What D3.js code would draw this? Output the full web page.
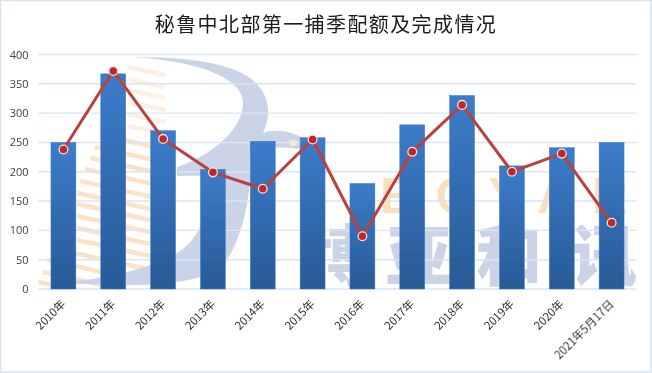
<!DOCTYPE html>
<html><head><meta charset="utf-8">
<script src="https://cdn.jsdelivr.net/npm/d3@7"></script>
<style>html,body{margin:0;padding:0;background:#fff}svg{display:block}</style>
</head><body><svg id="c" width="652" height="373"></svg>
<script>
const categories=["2010年","2011年","2012年","2013年","2014年","2015年","2016年","2017年","2018年","2019年","2020年","2021年5月17日"];
const quota=[250,367,270,204,252,258,180,280,330,210,241,250];
const completed=[238,372,256,199,171,255,90,234,314,200,231,113];
const yTicks=[0,50,100,150,200,250,300,350,400];
const titleText="秘鲁中北部第一捕季配额及完成情况";
const wmLatin=["B","O","Y","A","R"];
const wmCjk=["博","亚","和","讯"];
const font='"Noto Sans CJK SC","Open Sans",sans-serif';
const svg=d3.select("#c");
svg.append("rect").attr("x",.5).attr("y",.5).attr("width",650.5).attr("height",371.5).attr("fill","#fff").attr("stroke","#d5e3f5").attr("stroke-width",1.5);
const x=d3.scaleBand().domain(categories).range([38.5,636.5]).paddingInner(.5).paddingOuter(.25);
const y=d3.scaleLinear().domain([0,400]).range([289,54.5]);
const defs=svg.append("defs");
const g=defs.append("linearGradient").attr("id","bar").attr("x1",0).attr("x2",0).attr("y1",0).attr("y2",1);
g.append("stop").attr("offset",0).attr("stop-color","#3c7cca");
g.append("stop").attr("offset",1).attr("stop-color","#285a96");
const f=defs.append("filter").attr("id","soft").attr("x","-2%").attr("y","-2%").attr("width","104%").attr("height","104%");
f.append("feGaussianBlur").attr("stdDeviation",.35);
const root=svg.append("g").attr("filter","url(#soft)");
// watermark
const wm=root.append("g");
const stripes=wm.append("g").attr("stroke-width",4.5).attr("fill","none");
[[128,67,165],[128,79,165],[128,90,165],[128,102,165],[128,114,165],[128,126,165],[100,135,165],[95,147,165],[90,158,165],[85,169,165],[80,181,165],[77,193,165],[77,204,160],[77,216,155],[77,228,150],[77,240,150],[60,250,150],[47,260,150],[43,272,120],[38,282,60]]
 .forEach((s,i)=>stripes.append("line").attr("stroke",i<6?"#fdf0e2":"#fbe2c8").attr("x1",s[0]).attr("y1",s[1]).attr("x2",s[2]).attr("y2",s[1]+.22*(s[2]-s[0])));
wm.append("path").attr("fill","#cbd3e7")
 .attr("d","M133 57C175 57 225 60 250 78C270 92 272 115 263 133C280 127 305 132 325 158C305 148 275 142 250 155C252 190 245 235 223 266C205 280 170 285 130 285L40 283C90 282 130 275 170 257C195 245 205 225 215 180C216 176 200 175 177 176L177 167C205 158 240 135 243 105C245 80 205 62 133 57Z");
wm.append("ellipse").attr("cx",293).attr("cy",143).attr("rx",4).attr("ry",3).attr("fill","#f8f0b0");
wm.append("g").attr("fill","#fbe0c0").attr("font-family","'Liberation Sans',sans-serif").attr("font-weight",700).attr("font-size",50)
 .selectAll("text").data(wmLatin).join("text").attr("x",(d,i)=>[398,455,505,555,610][i]).attr("y",213).attr("text-anchor","middle").text(d=>d);
const star=d3.symbol().type(d3.symbolStar).size(160)();
wm.append("path").attr("d",star).attr("transform","translate(455,196)").attr("fill","#fff");
wm.append("g").attr("fill","#cbd3e7").attr("font-family",font).attr("font-weight",900).attr("font-size",66)
 .selectAll("text").data(wmCjk).join("text").attr("x",(d,i)=>[340,419,509,604][i]).attr("y",280).attr("text-anchor","middle").text(d=>d);
// gridlines
root.append("g").selectAll("line").data(yTicks).join("line")
 .attr("x1",38.5).attr("x2",636.5).attr("y1",d=>y(d)).attr("y2",d=>y(d))
 .attr("stroke","#d9e5f6").attr("stroke-width",1.4);
// bars
root.append("g").selectAll("rect").data(quota).join("rect")
 .attr("x",(d,i)=>x(categories[i])).attr("width",x.bandwidth())
 .attr("y",d=>y(d)).attr("height",d=>y(0)-y(d)).attr("fill","url(#bar)").attr("stroke","#3c7cca").attr("stroke-width",.5);
// line
const cx=i=>x(categories[i])+x.bandwidth()/2;
const line=d3.line().x((d,i)=>cx(i)).y(d=>y(d));
root.append("path").datum(completed).attr("d",line).attr("fill","none").attr("stroke","#b9423f").attr("stroke-width",3).attr("stroke-linejoin","round");
root.append("g").selectAll("circle").data(completed).join("circle")
 .attr("cx",(d,i)=>cx(i)).attr("cy",d=>y(d)).attr("r",4.4).attr("fill","#c0272b").attr("stroke","#f1e4dc").attr("stroke-width",1.3);
// y labels
root.append("g").attr("font-family","'Open Sans',sans-serif").attr("font-size",11).attr("fill","#404040").attr("text-anchor","end")
 .selectAll("text").data(yTicks).join("text").attr("x",28.5).attr("y",d=>y(d)+4).text(d=>d);
// x labels
root.append("g").attr("font-family",font).attr("font-size",11.3).attr("fill","#303030").attr("text-anchor","end")
 .selectAll("text").data(categories).join("text")
 .attr("transform",(d,i)=>`translate(${cx(i)-2},${300}) rotate(-45)`).attr("dy","0.6em").text(d=>d);
// title
root.append("text").attr("x",326).attr("y",32).attr("text-anchor","middle").attr("font-family",font).attr("font-size",20).attr("letter-spacing",1.4).attr("fill","#1a1a1a").text(titleText);
</script></body></html>
